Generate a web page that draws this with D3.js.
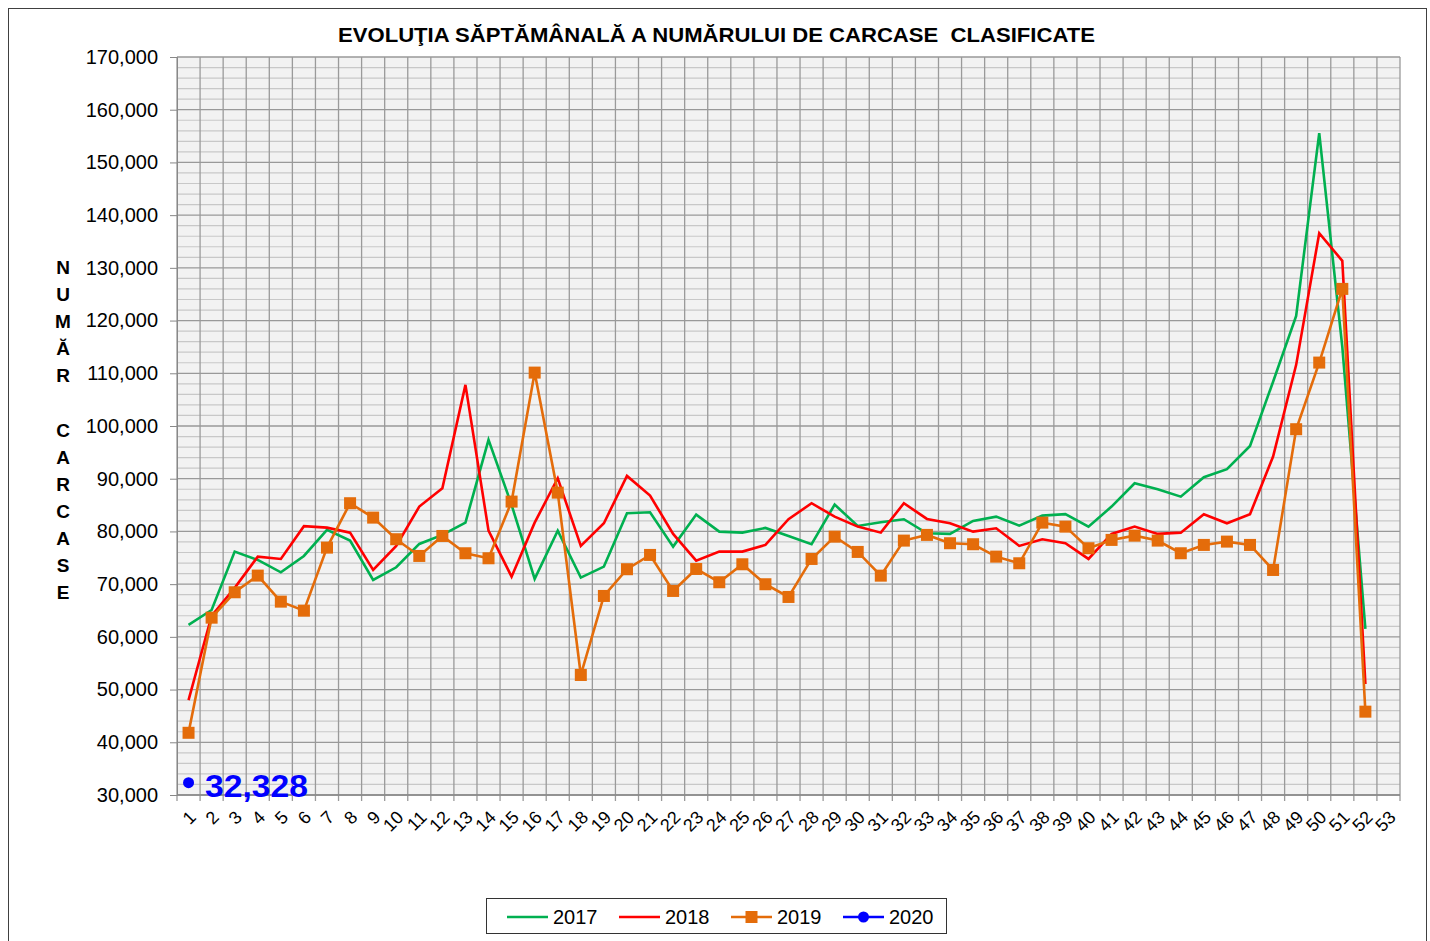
<!DOCTYPE html>
<html>
<head>
<meta charset="utf-8">
<script src="https://cdn.jsdelivr.net/npm/d3@7"></script>
<style>
  body { margin: 0; background: #fff; }
  text { font-family: "Liberation Sans", Arial, sans-serif; }
</style>
</head>
<body>
<svg id="chart" width="1430" height="941"></svg>
<script>
// weeks on the x axis
const weeks = d3.range(1, 54);
const yTicks = d3.range(30000, 170001, 10000);
const yMinor = d3.range(30000, 170001, 2000);

const years = ["2017", "2018", "2019", "2020"];

// weekly counts
const s2017 = [62260, 65100, 76170, 74590, 72250, 75350, 80290, 78260, 70800, 73200,
  77630, 79340, 81670, 97360, 85030, 70990, 80150, 71240, 73330, 83450,
  83640, 77120, 83190, 79960, 79770, 80660, 79140, 77570, 85090, 81040,
  81740, 82310, 79650, 79530, 81990, 82810, 81100, 83000, 83270, 80910,
  84710, 89140, 88000, 86600, 90280, 91800, 96220, 108400, 120900, 155560,
  115000, 61500];
const s2018 = [48000, 64000, 69300, 75220, 74780, 81000, 80720, 79770, 72690, 77250,
  84710, 88200, 107800, 80150, 71420, 81670, 90100, 77250, 81550, 90530,
  86800, 79530, 74460, 76170, 76170, 77440, 82310, 85350, 82810, 80910,
  79770, 85350, 82370, 81550, 79960, 80600, 77250, 78520, 77760, 74780,
  79530, 80910, 79530, 79770, 83270, 81550, 83270, 94200, 111600, 136580,
  131330, 51060];
const s2019 = [41800, 63640, 68460, 71620, 66680, 64970, 76930, 85350, 82620, 78520,
  75350, 79140, 75860, 74910, 85660, 110130, 87360, 52770, 67760, 72830,
  75540, 68710, 72880, 70360, 73770, 69980, 67570, 74780, 79010, 76110,
  71610, 78260, 79340, 77760, 77570, 75220, 73960, 81670, 80910, 76810,
  78390, 79200, 78260, 75860, 77440, 78070, 77440, 72690, 99390, 112030,
  126010, 45810];
const s2020 = [32328];

const colors = {"2017": "#00b050", "2018": "#ff0000", "2019": "#e46c0a", "2020": "#0000ff"};
const markers = {"2017": null, "2018": null, "2019": "square", "2020": "circle"};
const seriesData = {"2017": s2017, "2018": s2018, "2019": s2019, "2020": s2020};

const svg = d3.select("#chart");

const plot = {left: 177, right: 1400, top: 57, bottom: 795};

const x = d3.scaleBand().domain(weeks).range([plot.left, plot.right]).padding(0);
const xc = d => x(d) + x.bandwidth() / 2;
const y = d3.scaleLinear().domain([30000, 170000]).range([plot.bottom, plot.top]);

// outer frame
svg.append("rect")
  .attr("x", 8.5).attr("y", 8.5)
  .attr("width", 1418).attr("height", 945)
  .attr("fill", "none").attr("stroke", "#404040").attr("stroke-width", 1);

// title
svg.append("text")
  .attr("x", 338).attr("y", 42)
  .attr("textLength", 757).attr("lengthAdjust", "spacingAndGlyphs")
  .style("white-space", "pre")
  .attr("font-size", 21).attr("font-weight", "bold")
  .text("EVOLUŢIA SĂPTĂMÂNALĂ A NUMĂRULUI DE CARCASE  CLASIFICATE");

// plot background and grid
svg.append("rect")
  .attr("x", plot.left).attr("y", plot.top)
  .attr("width", plot.right - plot.left).attr("height", plot.bottom - plot.top)
  .attr("fill", "#f2f2f2");

svg.append("g").selectAll("line")
  .data(yMinor.filter(v => v % 10000 !== 0))
  .join("line")
  .attr("x1", plot.left).attr("x2", plot.right)
  .attr("y1", d => y(d)).attr("y2", d => y(d))
  .attr("stroke", "#c8c8c8").attr("stroke-width", 1.2);

svg.append("g").selectAll("line")
  .data(weeks.map(d => x(d)).concat([plot.right]))
  .join("line")
  .attr("x1", d => d).attr("x2", d => d)
  .attr("y1", plot.top).attr("y2", plot.bottom + 6)
  .attr("stroke", "#9a9a9a").attr("stroke-width", 1.3);

svg.append("g").selectAll("line")
  .data(yTicks)
  .join("line")
  .attr("x1", plot.left).attr("x2", plot.right)
  .attr("y1", d => y(d)).attr("y2", d => y(d))
  .attr("stroke", "#999").attr("stroke-width", 1.3);

// y axis
const yAxis = svg.append("g")
  .attr("transform", "translate(" + plot.left + ",0)")
  .call(d3.axisLeft(y).tickValues(yTicks).tickSize(7).tickPadding(12).tickFormat(d3.format(",")));
yAxis.selectAll("text").attr("font-size", 20).attr("fill", "#000")
  .style("font-family", "'Liberation Sans', Arial, sans-serif");
yAxis.selectAll("line, path").attr("stroke", "#888");

// x axis labels, rotated
svg.append("g").selectAll("text")
  .data(weeks)
  .join("text")
  .attr("transform", d => "translate(" + (xc(d) + 4) + "," + 814 + ") rotate(-45)")
  .attr("text-anchor", "end")
  .attr("dy", "0.35em")
  .attr("font-size", 18)
  .text(d => d);

svg.append("line")
  .attr("x1", plot.left).attr("x2", plot.right)
  .attr("y1", plot.bottom).attr("y2", plot.bottom)
  .attr("stroke", "#888").attr("stroke-width", 1.3);

// y axis title, letters stacked
const yTitle = "NUMĂR CARCASE".split("");
svg.append("g").selectAll("text")
  .data(yTitle)
  .join("text")
  .attr("x", 63)
  .attr("y", (d, i) => 274 + i * 27.1)
  .attr("text-anchor", "middle")
  .attr("font-size", 19).attr("font-weight", "bold")
  .text(d => d);

// series lines
const line = d3.line()
  .x((v, i) => xc(i + 1))
  .y(v => y(v));

years.forEach(function (yr) {
  const data = seriesData[yr];
  svg.append("path")
    .datum(data)
    .attr("d", line)
    .attr("fill", "none")
    .attr("stroke", colors[yr])
    .attr("stroke-width", 2.6)
    .attr("stroke-linejoin", "miter");

  if (markers[yr] === "square") {
    svg.append("g").selectAll("rect")
      .data(data)
      .join("rect")
      .attr("x", (v, i) => xc(i + 1) - 6)
      .attr("y", v => y(v) - 6)
      .attr("width", 12).attr("height", 12)
      .attr("fill", colors[yr]);
  } else if (markers[yr] === "circle") {
    svg.append("g").selectAll("circle")
      .data(data)
      .join("circle")
      .attr("cx", (v, i) => xc(i + 1))
      .attr("cy", v => y(v))
      .attr("r", 5.5)
      .attr("fill", colors[yr]);
  }
});

// data label for 2020
svg.append("text")
  .attr("x", 205).attr("y", 797)
  .attr("font-size", 32).attr("font-weight", "bold")
  .attr("fill", "#0000ff")
  .attr("textLength", 103).attr("lengthAdjust", "spacingAndGlyphs")
  .text(d3.format(",")(s2020[0]));

// legend
const legend = svg.append("g");
legend.append("rect")
  .attr("x", 486.5).attr("y", 898.5)
  .attr("width", 460).attr("height", 35)
  .attr("fill", "#fff").attr("stroke", "#333");

const legendX = [507, 619, 731, 843];
years.forEach(function (yr, i) {
  const lx = legendX[i];
  legend.append("line")
    .attr("x1", lx).attr("x2", lx + 41)
    .attr("y1", 917).attr("y2", 917)
    .attr("stroke", colors[yr]).attr("stroke-width", 2.6);
  if (markers[yr] === "square") {
    legend.append("rect")
      .attr("x", lx + 20.5 - 6).attr("y", 917 - 6)
      .attr("width", 12).attr("height", 12)
      .attr("fill", colors[yr]);
  } else if (markers[yr] === "circle") {
    legend.append("circle")
      .attr("cx", lx + 20.5).attr("cy", 917).attr("r", 5.5)
      .attr("fill", colors[yr]);
  }
  legend.append("text")
    .attr("x", lx + 46).attr("y", 924)
    .attr("font-size", 20)
    .text(yr);
});
</script>
</body>
</html>
